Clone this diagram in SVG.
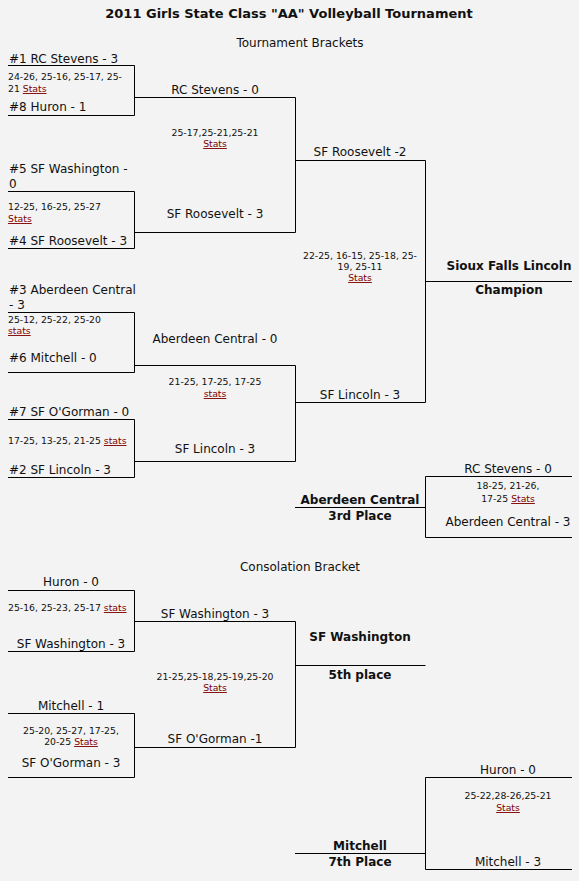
<svg xmlns="http://www.w3.org/2000/svg" width="579" height="881" viewBox="0 0 579 881">
<style>
text{font-family:"DejaVu Sans",Verdana,sans-serif;fill:#111;}
.t{font-size:12px;}
.s{font-size:9.3px;}
.b{font-size:12px;font-weight:bold;}
.h{font-size:13px;font-weight:bold;}
.c{text-anchor:middle;}
.l{fill:#800000;text-decoration:underline;}
.ln{fill:none;stroke:#000;stroke-width:1;}
</style>
<rect width="579" height="881" fill="#f3f3f3"/>
<g id="title">
<text class="h c" x="289" y="18">2011 Girls State Class "AA" Volleyball Tournament</text>
<text class="t c" x="300" y="47">Tournament Brackets</text>
<text class="t c" x="300" y="571">Consolation Bracket</text>
</g>
<g id="connectors" class="ln">
<path d="M8,65.5H134.5V115.5H8M134.5,97.5H295.5"/>
<path d="M8,191.5H134.5V248.5H8M134.5,232.5H295.5"/>
<path d="M295.5,97.5V232.5M295.5,160.5H425.5"/>
<path d="M8,312.5H134.5V372.5H8M134.5,365.5H295.5"/>
<path d="M8,419.5H134.5V477.5H8M134.5,461.5H295.5"/>
<path d="M295.5,365.5V461.5M295.5,402.5H425.5"/>
<path d="M425.5,160.5V402.5M425.5,281.5H572"/>
<path d="M572,476.5H425.5V537.5H572M295,507.5H425.5"/>
<path d="M8,590.5H134.5V651.5H8M134.5,621.5H295.5"/>
<path d="M8,713.5H134.5V777.5H8M134.5,747.5H295.5"/>
<path d="M295.5,621.5V747.5M295.5,665.5H425.5"/>
<path d="M572,777.5H425.5V869.5H572M295,853.5H425.5"/>
</g>
<g id="qf1" transform="translate(0,1)">
<text class="t" x="9" y="62">#1 RC Stevens - 3</text>
<text class="s" x="8" y="79">24-26, 25-16, 25-17, 25-</text>
<text class="s" x="8" y="91">21 <tspan class="l">Stats</tspan></text>
<text class="t" x="9" y="110">#8 Huron - 1</text>
</g>
<g id="qf2" transform="translate(0,1)">
<text class="t" x="9" y="172">#5 SF Washington -</text>
<text class="t" x="9" y="187">0</text>
<text class="s" x="8" y="209">12-25, 16-25, 25-27</text>
<text class="s l" x="8" y="221">Stats</text>
<text class="t" x="9" y="244">#4 SF Roosevelt - 3</text>
</g>
<g id="qf3" transform="translate(0,1)">
<text class="t" x="9" y="293">#3 Aberdeen Central</text>
<text class="t" x="9" y="308">- 3</text>
<text class="s" x="8" y="322">25-12, 25-22, 25-20</text>
<text class="s l" x="8" y="333">stats</text>
<text class="t" x="9" y="361">#6 Mitchell - 0</text>
</g>
<g id="qf4" transform="translate(0,1)">
<text class="t" x="9" y="415">#7 SF O'Gorman - 0</text>
<text class="s" x="8" y="443">17-25, 13-25, 21-25 <tspan class="l">stats</tspan></text>
<text class="t" x="9" y="473">#2 SF Lincoln - 3</text>
</g>
<g id="sf1" transform="translate(0,1)">
<text class="t c" x="215" y="93">RC Stevens - 0</text>
<text class="s c" x="215" y="135">25-17,25-21,25-21</text>
<text class="s c l" x="215" y="146">Stats</text>
<text class="t c" x="215" y="217">SF Roosevelt - 3</text>
</g>
<g id="sf2" transform="translate(0,1)">
<text class="t c" x="215" y="342">Aberdeen Central - 0</text>
<text class="s c" x="215" y="384">21-25, 17-25, 17-25</text>
<text class="s c l" x="215" y="396">stats</text>
<text class="t c" x="215" y="452">SF Lincoln - 3</text>
</g>
<g id="final" transform="translate(0,1)">
<text class="t c" x="360" y="155">SF Roosevelt -2</text>
<text class="s c" x="360" y="258">22-25, 16-15, 25-18, 25-</text>
<text class="s c" x="360" y="269">19, 25-11</text>
<text class="s c l" x="360" y="280">Stats</text>
<text class="t c" x="360" y="398">SF Lincoln - 3</text>
</g>
<g id="champion" transform="translate(0,1)">
<text class="b c" x="509" y="269">Sioux Falls Lincoln</text>
<text class="b c" x="509" y="293">Champion</text>
</g>
<g id="third" transform="translate(0,1)">
<text class="t c" x="508" y="472">RC Stevens - 0</text>
<text class="s c" x="508" y="488">18-25, 21-26,</text>
<text class="s c" x="508" y="501">17-25 <tspan class="l">Stats</tspan></text>
<text class="t c" x="508" y="525">Aberdeen Central - 3</text>
<text class="b c" x="360" y="503">Aberdeen Central</text>
<text class="b c" x="360" y="519">3rd Place</text>
</g>
<g id="cons1" transform="translate(0,1)">
<text class="t c" x="71" y="585">Huron - 0</text>
<text class="s" x="8" y="610">25-16, 25-23, 25-17 <tspan class="l">stats</tspan></text>
<text class="t c" x="71" y="647">SF Washington - 3</text>
</g>
<g id="cons2" transform="translate(0,1)">
<text class="t c" x="71" y="709">Mitchell - 1</text>
<text class="s c" x="71" y="733">25-20, 25-27, 17-25,</text>
<text class="s c" x="71" y="744">20-25 <tspan class="l">Stats</tspan></text>
<text class="t c" x="71" y="766">SF O'Gorman - 3</text>
</g>
<g id="fifth-game" transform="translate(0,1)">
<text class="t c" x="215" y="617">SF Washington - 3</text>
<text class="s c" x="215" y="679">21-25,25-18,25-19,25-20</text>
<text class="s c l" x="215" y="690">Stats</text>
<text class="t c" x="215" y="742">SF O'Gorman -1</text>
</g>
<g id="fifth" transform="translate(0,1)">
<text class="b c" x="360" y="640">SF Washington</text>
<text class="b c" x="360" y="678">5th place</text>
</g>
<g id="seventh" transform="translate(0,1)">
<text class="t c" x="508" y="773">Huron - 0</text>
<text class="s c" x="508" y="798">25-22,28-26,25-21</text>
<text class="s c l" x="508" y="810">Stats</text>
<text class="t c" x="508" y="865">Mitchell - 3</text>
<text class="b c" x="360" y="849">Mitchell</text>
<text class="b c" x="360" y="865">7th Place</text>
</g>
</svg>
